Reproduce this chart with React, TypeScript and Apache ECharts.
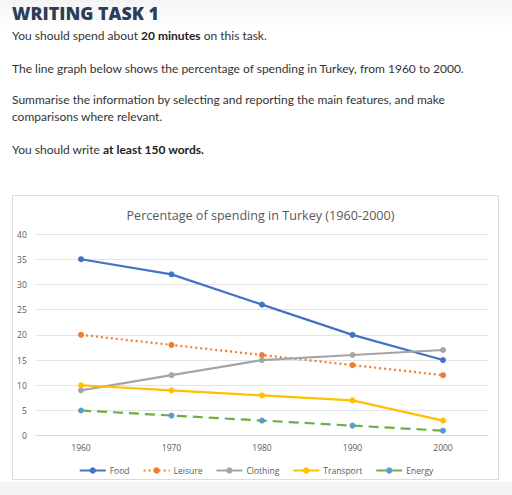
import React, { useEffect, useRef } from "react";
import * as echarts from "echarts";

const years = ["1960", "1970", "1980", "1990", "2000"];
const food = [35, 32, 26, 20, 15];
const leisure = [20, 18, 16, 14, 12];
const clothing = [9, 12, 15, 16, 17];
const transport = [10, 9, 8, 7, 3];
const energy = [5, 4, 3, 2, 1];

const heading = "WRITING TASK 1";
const line1 = "You should spend about {b|20 minutes} on this task.";
const line2 = "The line graph below shows the percentage of spending in Turkey, from 1960 to 2000.";
const line3 = "Summarise the information by selecting and reporting the main features, and make";
const line4 = "comparisons where relevant.";
const line5 = "You should write {b|at least 150 words.}";
const chartTitle = "Percentage of spending in Turkey (1960-2000)";

export default function App() {
  const ref = useRef<HTMLDivElement>(null);
  useEffect(() => {
    if (!ref.current) return;
    const chart = echarts.init(ref.current, null, { renderer: "svg" });
    const bodyFont = "Lato";
    const textStyle = (y: number, t: string) => ({
      type: "text",
      left: 12,
      top: y,
      style: {
        text: t,
        fontFamily: bodyFont,
        fontSize: 12,
        fill: "#333",
        rich: { b: { fontFamily: bodyFont, fontSize: 12, fontWeight: "bold", fill: "#222" } },
      },
    });
    const axisLabel = { fontFamily: "Open Sans", fontSize: 8.5, color: "#595959" };
    const mk = (name: string, data: number[], color: string, extra: any = {}) => ({
      name,
      type: "line",
      data,
      symbol: "circle",
      symbolSize: 6,
      itemStyle: { color: extra.itemColor || color },
      lineStyle: { color, width: 2.2, type: extra.type || "solid" },
      emphasis: { disabled: true },
    });
    chart.setOption({
      animation: false,
      backgroundColor: "#ffffff",
      textStyle: { fontFamily: "Open Sans" },
      title: {
        text: chartTitle,
        left: 255.5,
        textAlign: "center",
        top: 204,
        textStyle: { fontFamily: "Open Sans", fontSize: 12.6, fontWeight: "normal", color: "#595959" },
      },
      graphic: [
        {
          type: "rect",
          shape: { x: 0, y: 0, width: 512, height: 28 },
          style: {
            fill: new echarts.graphic.LinearGradient(0, 0, 0, 1, [
              { offset: 0, color: "#f4f4f4" },
              { offset: 1, color: "#ffffff" },
            ]),
          },
          z: -10,
        },
        {
          type: "rect",
          shape: { x: 0, y: 482, width: 512, height: 13 },
          style: { fill: "#f3f3f3" },
          z: -10,
        },
        {
          type: "rect",
          shape: { x: 12.5, y: 195.5, width: 486, height: 284 },
          style: { fill: "#ffffff", stroke: "#dcdcdc", lineWidth: 1 },
          z: -5,
        },
        {
          type: "text",
          left: 12,
          top: 4,
          style: { text: heading, fontFamily: "Open Sans", fontSize: 17.8, fontWeight: 800, fill: "#2c3d57" },
        },
        textStyle(29, line1),
        textStyle(62, line2),
        textStyle(93, line3),
        textStyle(110, line4),
        textStyle(143, line5),
      ],
      grid: { left: 35.75, right: 23.75, top: 234, bottom: 59.3 },
      xAxis: {
        type: "category",
        data: years,
        boundaryGap: true,
        axisLine: { lineStyle: { color: "#d9d9d9" } },
        axisTick: { show: false },
        axisLabel: { ...axisLabel, margin: 7 },
      },
      yAxis: {
        type: "value",
        min: 0,
        max: 40,
        interval: 5,
        axisLine: { show: false },
        axisTick: { show: false },
        splitLine: { lineStyle: { color: "#e3e3e3" } },
        axisLabel: { ...axisLabel, margin: 9 },
      },
      legend: {
        top: 461,
        left: "center",
        itemWidth: 26,
        itemHeight: 8,
        itemGap: 13,
        textStyle: { fontFamily: "Open Sans", fontSize: 8.5, color: "#595959", padding: [0, 0, 0, -1] },
        data: ["Food", "Leisure", "Clothing", "Transport", "Energy"],
      },
      series: [
        mk("Food", food, "#4472C4"),
        mk("Leisure", leisure, "#ED7D31", { type: [2, 3] }),
        mk("Clothing", clothing, "#A5A5A5"),
        mk("Transport", transport, "#FFC000"),
        mk("Energy", energy, "#70AD47", { type: [10, 6], itemColor: "#5B9BD5" }),
      ],
    });
    return () => chart.dispose();
  }, []);
  return <div ref={ref} style={{ position: "fixed", left: 0, top: 0, width: 512, height: 495 }} />;
}
